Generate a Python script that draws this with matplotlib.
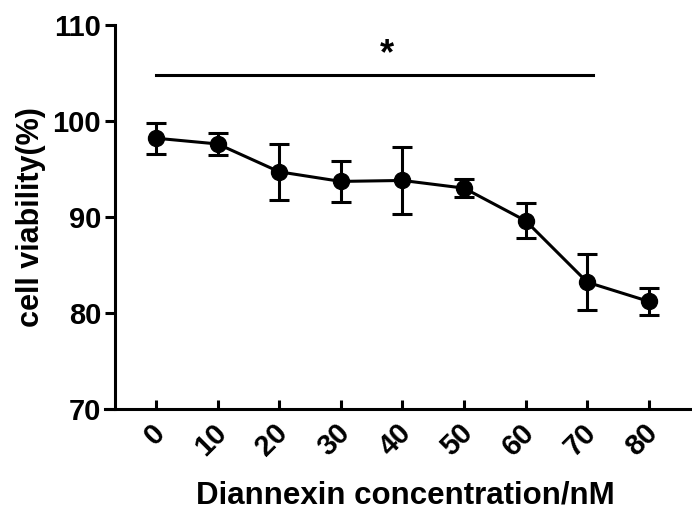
import matplotlib
matplotlib.use("Agg")
import matplotlib.pyplot as plt
import matplotlib.transforms as mtransforms
import numpy as np

plt.rcParams["font.family"] = ["Liberation Sans", "DejaVu Sans"]

doses = ["0", "10", "20", "30", "40", "50", "60", "70", "80"]
viability = [98.2, 97.6, 94.7, 93.7, 93.8, 93.0, 89.6, 83.2, 81.2]
sem = [1.6, 1.1, 2.9, 2.1, 3.5, 0.9, 1.8, 2.9, 1.45]

# significance bracket: from first to (just past) the 70 nM group
sig_start, sig_end, sig_y = 0, 7.1, 104.8

fig = plt.figure(figsize=(6.92, 5.19), dpi=100)
ax = fig.add_axes([0.1517, 0.212, 0.8483, 0.74])

x = np.arange(len(doses))
ax.errorbar(x, viability, yerr=sem, color="black", lw=2.2, marker="o",
            markersize=11.5, elinewidth=2.2, capsize=7, capthick=2.2,
            clip_on=False, zorder=3)

ax.plot([sig_start, sig_end], [sig_y, sig_y], color="black", lw=2.2)
ax.text(3.74, 106.9, "*", ha="center", va="center", fontsize=26,
        fontweight="bold")

ax.set_xlim(-0.83, 8.70)
ax.set_ylim(70, 110)
ax.set_yticks([70, 80, 90, 100, 110])
ax.set_xticks(x)
ax.set_xticklabels(doses, rotation=45, ha="right", rotation_mode="anchor")

for s in ["top", "right"]:
    ax.spines[s].set_visible(False)
ax.spines["left"].set_position(("data", -0.666))
ax.spines["left"].set_linewidth(2.2)
ax.spines["bottom"].set_linewidth(2.2)

ax.tick_params(axis="y", direction="out", length=7, width=2.2,
               labelsize=21, pad=3)
ax.tick_params(axis="x", direction="in", length=6.5, width=2.2,
               labelsize=21, pad=7)
for lab in ax.get_yticklabels():
    lab.set_fontweight("bold")
# nudge rotated x labels a little to the left
shift = mtransforms.ScaledTranslation(-0.055, 0, fig.dpi_scale_trans)
for lab in ax.get_xticklabels():
    lab.set_fontweight("bold")
    lab.set_transform(lab.get_transform() + shift)

ax.set_xlabel("Diannexin concentration/nM", fontsize=22.5, fontweight="bold")
ax.set_ylabel("cell viability(%)", fontsize=22, fontweight="bold")
ax.yaxis.set_label_coords(-0.10, 0.5)
ax.xaxis.set_label_coords(0.512, -0.185)

fig.savefig("out.png", dpi=100)
